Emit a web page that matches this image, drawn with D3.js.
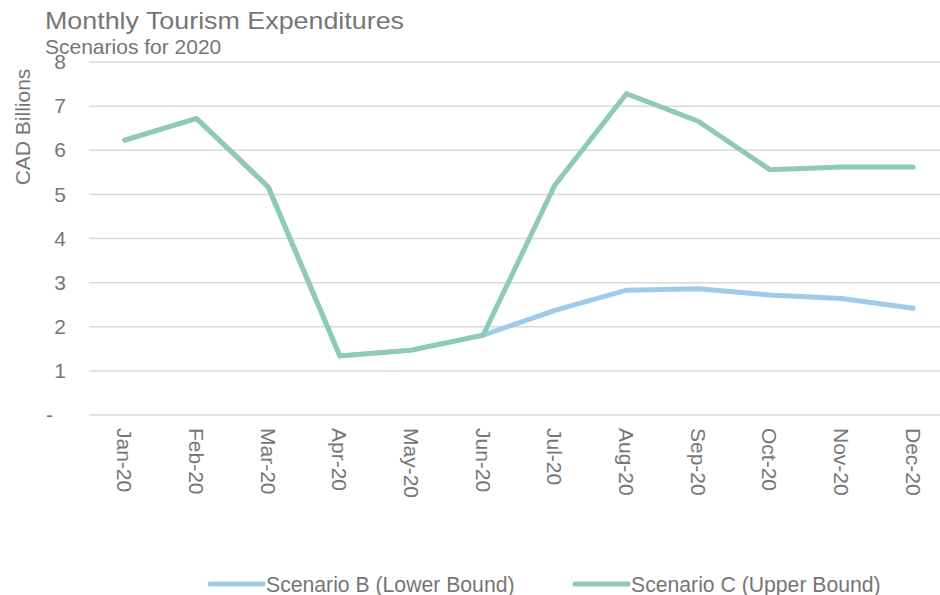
<!DOCTYPE html>
<html>
<head>
<meta charset="utf-8">
<script src="https://cdn.jsdelivr.net/npm/d3@7"></script>
<style>
  body { margin: 0; background: #fff; }
  text { font-family: "Liberation Sans", Arial, sans-serif; fill: #767676; }
</style>
</head>
<body>
<div class="canva"></div>
<script>
// data
const months = ['Jan-20', 'Feb-20', 'Mar-20', 'Apr-20', 'May-20', 'Jun-20',
                'Jul-20', 'Aug-20', 'Sep-20', 'Oct-20', 'Nov-20', 'Dec-20'];
const scenarioB = [6.23, 6.72, 5.17, 1.34, 1.47, 1.81, 2.37, 2.83, 2.86, 2.72, 2.64, 2.42];
const scenarioC = [6.23, 6.72, 5.17, 1.34, 1.47, 1.81, 5.21, 7.28, 6.66, 5.56, 5.62, 5.62];
const yTicks = [0, 1, 2, 3, 4, 5, 6, 7, 8];
const seriesNames = ['Scenario B (Lower Bound)', 'Scenario C (Upper Bound)'];
const colors = ['#9ecbe9', '#8fcab4'];

const width = 940, height = 595;

const svg = d3.select('.canva').append('svg')
    .attr('width', width)
    .attr('height', height);

// scales
const x = d3.scaleBand()
    .domain(months)
    .range([89, 949]);

const y = d3.scaleLinear()
    .domain([0, 8])
    .range([415, 62]);

// gridlines
svg.append('g')
    .selectAll('line')
    .data(yTicks)
    .enter().append('line')
    .attr('x1', 89)
    .attr('x2', 949)
    .attr('y1', d => y(d))
    .attr('y2', d => y(d))
    .attr('stroke', '#d9d9d9')
    .attr('stroke-width', 1.5);

// y axis
const yAxis = svg.append('g')
    .attr('transform', 'translate(89,0)')
    .call(d3.axisLeft(y).tickValues(yTicks).tickSize(0).tickPadding(23)
        .tickFormat(d => d === 0 ? '-' : d));
yAxis.select('.domain').remove();
yAxis.selectAll('text')
    .style('font-size', '21px')
    .style('font-family', '"Liberation Sans", Arial, sans-serif')
    .attr('fill', '#6e6e6e')
    .attr('dx', d => d === 0 ? -13 : 0);

// x axis, rotated labels
const xAxis = svg.append('g')
    .attr('transform', 'translate(0,415)')
    .call(d3.axisBottom(x).tickSize(0));
xAxis.select('.domain').remove();
xAxis.selectAll('text')
    .style('font-size', '21px')
    .style('font-family', '"Liberation Sans", Arial, sans-serif')
    .attr('fill', '#6e6e6e')
    .attr('y', 0)
    .attr('dy', 0)
    .attr('transform', 'translate(0,13) rotate(90)')
    .attr('text-anchor', 'start')
    .attr('dominant-baseline', 'central');

// lines
const line = d3.line()
    .x((d, i) => x(months[i]) + x.bandwidth() / 2)
    .y(d => y(d));

[scenarioB, scenarioC].forEach((s, i) => {
    svg.append('path')
        .datum(s)
        .attr('fill', 'none')
        .attr('stroke', colors[i])
        .attr('stroke-width', 5)
        .attr('stroke-linecap', 'round')
        .attr('stroke-linejoin', 'miter')
        .attr('d', line);
});

// titles
svg.append('text')
    .attr('x', 45)
    .attr('y', 29)
    .attr('textLength', 359)
    .attr('lengthAdjust', 'spacingAndGlyphs')
    .style('font-size', '24px')
    .text('Monthly Tourism Expenditures');

svg.append('text')
    .attr('x', 45)
    .attr('y', 54)
    .style('font-size', '21px')
    .text('Scenarios for 2020');

svg.append('text')
    .attr('transform', 'translate(30,127) rotate(-90)')
    .attr('text-anchor', 'middle')
    .style('font-size', '21px')
    .text('CAD Billions');

// legend
const legendX = [208, 573];
const legend = svg.selectAll('.legend')
    .data(seriesNames)
    .enter().append('g')
    .attr('transform', (d, i) => `translate(${legendX[i]},584)`);

legend.append('line')
    .attr('x1', 2)
    .attr('x2', 55)
    .attr('stroke', (d, i) => colors[i])
    .attr('stroke-width', 5)
    .attr('stroke-linecap', 'round');

legend.append('text')
    .attr('x', 58)
    .attr('y', 8)
    .style('font-size', '21.2px')
    .text(d => d);
</script>
</body>
</html>
